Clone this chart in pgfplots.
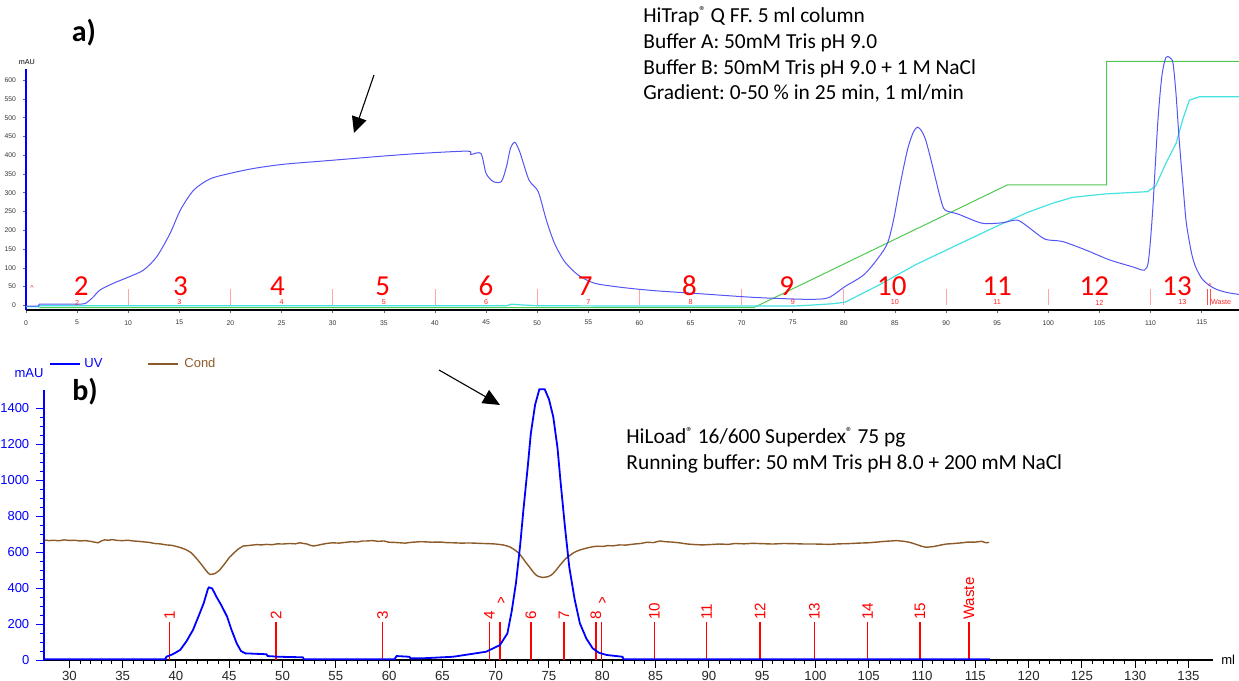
\documentclass[border=0pt]{standalone}
\usepackage{fontspec}
\setmainfont{Carlito}
\newfontfamily\arial{Liberation Sans}
\usepackage{pgfplots}
\pgfplotsset{compat=1.18}
\usetikzlibrary{arrows.meta}
\definecolor{uva}{RGB}{85,85,245}
\definecolor{conda}{RGB}{70,225,225}
\definecolor{grad}{RGB}{80,200,80}
\definecolor{uvb}{RGB}{0,0,255}
\definecolor{condb}{RGB}{140,90,40}
\definecolor{fraclight}{RGB}{255,165,165}
\newcommand{\reg}{\raisebox{0.33em}{\fontsize{6.5}{7}\selectfont ®}}
\frenchspacing
\begin{document}
\begin{tikzpicture}
\useasboundingbox (0,0) rectangle (619.5pt,340.5pt);

% ---------------- Panel a ----------------
\begin{axis}[
  at={(13pt,185.4pt)}, anchor=south west, scale only axis,
  width=606.5pt, height=120.6pt,
  xmin=0, xmax=118.65, ymin=-13, ymax=630,
  axis x line*=bottom, axis y line*=left,
  x axis line style={black, line width=0.8pt, -},
  y axis line style={blue, line width=1pt, -},
  clip=false,
  xtick={0,5,...,115}, ytick={0,50,...,600},
  tick align=outside, major tick length=1.5pt,
  tick style={black!60, line width=0.3pt},
  /pgf/number format/assume math mode=true,
  tick label style={font=\arial\fontsize{3.4}{4}\selectfont, text=black!80},
]
% fraction markers
\addplot[ycomb, draw=fraclight, line width=0.4pt] coordinates {
(10,43) (20,43) (30,43) (40,43) (50,43) (60,43) (70,43) (80,43) (90,43) (100,43) (110,43)};
\addplot[ycomb, draw=red!70, line width=0.4pt] coordinates {(115.6,43) (115.85,43)};
% gradient (green)
\addplot[grad, line width=0.5pt] coordinates {
(1.3,-6) (71.2,-6) (96.0,321) (105.7,321) (105.7,650) (118.65,650)};
% conductivity (cyan)
\addplot[conda, line width=0.6pt] coordinates {
(0,-4) (1.3,-4) (1.3,-1) (47,-1) (47.5,3) (48.5,1) (50,-1) (60,-2) (75,-2) (76.5,0) (78.8,4)
(80.1,8) (83.5,55) (87.0,108) (91,160) (95.2,214) (98,248) (100.4,272) (102.4,288) (105.6,297)
(109.7,303) (110.5,318) (111.5,379) (112.5,432) (113.2,500) (113.8,547) (114.8,556) (118.65,556)};
% UV (blue)
\addplot[uva, line width=0.5pt] coordinates {(0,-2) (1.2,-2) (1.3,3) (5.0,3)};
\addplot[uva, line width=0.5pt, smooth, tension=0.45] coordinates {
(5.0,3) (5.8,5) (6.5,20) (7.25,41) (8.56,59) (10.0,75) (11.5,94)
(12.8,130) (14.1,192) (15.1,254) (16.4,307) (18.0,337) (20,352) (22.3,365) (25.2,376)
(30.1,387) (35.0,398) (38.6,405) (43.2,411) (43.5,402) (44.5,405) (45.0,352) (45.7,330)
(46.5,330) (47.0,370) (47.4,420) (47.8,435) (48.1,422) (48.4,401) (49.2,334) (50.1,303)
(50.9,227) (51.7,165) (52.7,116) (54.0,81) (55.6,59) (58.2,48) (61.5,39) (66.4,30)
(71.3,21) (76.2,16) (78.2,18) (79.0,28) (80.1,50) (82.1,85) (84.1,156) (84.8,220) (85.4,307)
(85.9,375) (86.3,423) (86.8,462) (87.2,475) (87.6,465) (88.0,441) (88.5,390) (89.0,334)
(89.5,280) (89.9,254) (91.2,243) (93.5,219) (95.5,220) (97.0,227) (98.4,201) (99.7,176)
(101.4,170) (103.7,147) (106.0,121) (108.2,103) (109.4,94) (109.8,120) (110.2,250)
(110.7,485) (111.1,610) (111.5,661) (111.9,660) (112.2,645) (112.5,560) (112.8,441)
(113.2,310) (113.5,219) (114.0,140) (114.4,103) (115.0,72) (115.7,54) (116.5,42)
(117.5,34) (118.65,29)};
% small fraction labels
\begin{scope}[every node/.style={font=\arial\fontsize{3.6}{4}\selectfont, text=red!85, inner sep=0pt}]
\node at (axis cs:5,7.5) {2};
\node at (axis cs:15,7.5) {3};
\node at (axis cs:25,7.5) {4};
\node at (axis cs:35,7.5) {5};
\node at (axis cs:45,7.5) {6};
\node at (axis cs:55,7.5) {7};
\node at (axis cs:65,7.5) {8};
\node at (axis cs:75,7.5) {9};
\node at (axis cs:85,7.5) {10};
\node at (axis cs:95,7.5) {11};
\node at (axis cs:105,7.5) {12};
\node at (axis cs:113.1,7.5) {13};
\node at (axis cs:116.9,7.5) {Waste};
\node at (axis cs:0.6,46) {\textasciicircum};
\node at (axis cs:115.8,52) {\textasciicircum};
\end{scope}
% large fraction labels
\begin{scope}[every node/.style={font=\fontsize{14.5}{16}\selectfont, text=red, inner sep=0pt}]
\node at (axis cs:5.4,51) {2};
\node at (axis cs:15.1,51) {3};
\node at (axis cs:24.6,51) {4};
\node at (axis cs:34.9,51) {5};
\node at (axis cs:45.0,51) {6};
\node at (axis cs:54.7,51) {7};
\node at (axis cs:64.9,51) {8};
\node at (axis cs:74.4,51) {9};
\node at (axis cs:84.7,51) {10};
\node at (axis cs:95.0,51) {11};
\node at (axis cs:104.5,51) {12};
\node at (axis cs:112.6,51) {13};
\end{scope}
\end{axis}
\node[font=\arial\fontsize{3.6}{4}\selectfont, inner sep=0pt] at (13.4pt,309.5pt) {mAU};

% ---------------- Panel b ----------------
\begin{axis}[
  at={(22.15pt,10.5pt)}, anchor=south west, scale only axis,
  width=584.35pt, height=134.85pt,
  xmin=27.65, xmax=137.3, ymin=0, ymax=1500,
  axis x line*=bottom, axis y line*=left,
  x axis line style={black, line width=0.6pt, -},
  y axis line style={blue, line width=0.8pt, -},
  xtick={30,35,...,135}, minor x tick num=4,
  ytick={0,200,...,1400}, minor y tick num=3,
  tick align=outside, major tick length=4pt, minor tick length=2pt,
  x tick style={black, line width=0.5pt}, y tick style={blue, line width=0.5pt},
  /pgf/number format/assume math mode=true,
  /pgf/number format/set thousands separator={},
  xticklabel style={font=\arial\fontsize{6.6}{7}\selectfont, text=black!85, yshift=1.8pt},
  yticklabel style={font=\arial\fontsize{6.5}{7}\selectfont, text=blue},
  clip=false,
]
% fraction markers
\addplot[ycomb, draw=red, line width=0.7pt, nodes near coords, point meta=explicit symbolic,
  every node near coord/.append style={rotate=90, anchor=west, font=\arial\fontsize{7.6}{8}\selectfont, text=red, inner sep=0.8pt}]
coordinates {(39.4,210)[1] (49.4,210)[2] (59.4,210)[3] (69.4,210)[4] (70.4,210)[{}]
(73.3,210)[6] (76.4,210)[7] (79.4,210)[8] (79.9,210)[{}] (84.9,210)[10] (89.8,210)[11]
(94.8,210)[12] (99.9,210)[13] (104.9,210)[14] (109.8,210)[15] (114.4,210)[Waste]};
\node[font=\arial\fontsize{8}{9}\selectfont, text=red, inner sep=0pt] at (axis cs:70.5,318) {\textasciicircum};
\node[font=\arial\fontsize{8}{9}\selectfont, text=red, inner sep=0pt] at (axis cs:80.0,318) {\textasciicircum};
% conductivity
\addplot[condb, line width=0.7pt] coordinates {
(27.7,667) (28.1,664) (28.5,666) (29.0,663) (29.5,668) (30.0,665) (30.5,666) (31.0,662)
(31.5,664) (32.0,660) (32.3,656) (32.7,652) (33.0,662) (33.3,668) (33.7,666) (34,670)
(34.5,665) (35,664) (35.5,666) (36,662) (36.5,660) (37,657) (37.5,654) (38,648) (38.5,646)
(39.1,640) (39.6,638) (40,632) (40.5,624) (41.0,612) (41.4,598) (41.7,580) (42.0,560)
(42.3,538) (42.6,515) (42.8,500) (43.0,485) (43.2,476) (43.5,478) (43.7,482) (44.1,500)
(44.4,522) (44.7,545) (45.0,570) (45.4,593) (45.8,615) (46.3,634) (46.7,636) (47,638)
(47.6,642) (48.0,640) (48.5,643) (49.0,641) (49.5,646) (50,645) (50.7,648) (51.2,646)
(51.6,652) (52.0,648) (52.3,645) (52.6,638) (52.9,634) (53.2,637) (53.6,642) (54.1,648)
(54.7,652) (55.3,650) (56,655) (56.5,658) (57.0,656) (57.5,662) (57.9,662) (58.4,664)
(59,660) (59.5,662) (60,655) (60.5,654) (61.0,652) (61.5,650) (62.0,654) (62.9,658)
(63.5,657) (64,655) (64.8,656) (65.4,653) (66.0,652) (66.8,650) (67.5,651) (68,650)
(68.8,648) (69.4,647) (70,645) (70.7,640) (71.3,630) (71.8,612) (72.2,593) (72.5,570)
(72.8,545) (73.2,515) (73.5,491) (73.8,472) (74.0,465) (74.4,459) (74.9,463) (75.2,472)
(75.4,482) (75.7,502) (76.0,525) (76.3,546) (76.6,566) (77.0,583) (77.3,596) (77.6,605)
(77.9,612) (78.5,622) (79.1,630) (79.6,633) (80.1,632) (80.5,636) (81.0,635) (81.6,640)
(82.2,639) (83,645) (83.6,648) (84.2,655) (84.8,653) (85.4,662) (85.9,658) (86.5,656)
(87.2,652) (88,645) (88.7,642) (89.4,640) (90.1,642) (91,645) (91.8,643) (92.5,648)
(93.3,646) (94.1,649) (95.0,647) (96,645) (97.0,648) (98,647) (99.0,645) (100,645)
(100.7,644) (101.3,643) (102.2,646) (103,647) (104.0,650) (105,652) (105.8,656)
(106.5,660) (107.1,662) (107.6,664) (108.2,661) (108.8,655) (109.2,648) (109.6,640)
(110.0,632) (110.4,627) (110.8,629) (111.2,632) (111.8,640) (112.3,645) (113.0,648)
(113.8,652) (114.3,656) (115,656) (115.6,660) (116.0,652) (116.3,654)};
% UV
\addplot[uvb, line width=0.9pt] coordinates {
(27.65,4) (39.0,4) (39.1,18) (39.7,32) (40.4,56) (41.0,105) (41.6,167) (42.1,240) (42.6,315)
(43.0,395) (43.1,404) (43.4,398) (43.8,352) (44.3,300) (44.8,241) (45.2,170) (45.7,93)
(46.1,50) (46.5,37) (48.5,32) (48.6,22) (49.7,18) (51.9,15) (52.0,4) (60.5,4) (60.7,22)
(61.9,18) (62.0,9) (63,9) (66.0,18) (69.1,46) (70.4,83) (71.1,148) (71.5,270) (71.9,427)
(72.3,640) (72.6,834) (73.0,1070) (73.3,1261) (73.7,1420) (74.1,1506) (74.6,1506)
(75.0,1450) (75.4,1353) (75.8,1180) (76.1,983) (76.5,740) (76.9,519) (77.4,340) (77.9,204)
(78.5,120) (79.1,65) (79.7,40) (80.4,28) (81.9,18) (82.0,4) (116.4,4)};
\node[font=\arial\fontsize{6.5}{7}\selectfont, anchor=west, inner sep=0pt] at (axis cs:137.3,0) {\hspace{4pt}ml};
\end{axis}
% legend and unit of panel b
\draw[uvb, line width=0.7pt] (25pt,158.5pt) -- (40pt,158.5pt);
\node[font=\arial\fontsize{6.5}{7}\selectfont, text=uvb, anchor=west, inner sep=0pt] at (42pt,159pt) {UV};
\draw[condb, line width=0.7pt] (74pt,158.5pt) -- (89pt,158.5pt);
\node[font=\arial\fontsize{6.5}{7}\selectfont, text=condb, anchor=west, inner sep=0pt] at (92pt,159pt) {Cond};
\node[font=\arial\fontsize{6.5}{7}\selectfont, text=uvb, inner sep=0pt] at (14.5pt,154pt) {mAU};

% panel letters
\node[font=\bfseries\fontsize{15}{16}\selectfont, inner sep=0pt] at (42pt,324pt) {a)};
\node[font=\bfseries\fontsize{15}{16}\selectfont, inner sep=0pt] at (42.5pt,144.5pt) {b)};

% annotation texts
\begin{scope}[every node/.style={font=\fontsize{10.7}{12}\selectfont, anchor=base west, inner sep=0pt}]
\node at (321.5pt,329.2pt) {HiTrap\reg{} Q FF. 5 ml column};
\node at (321.5pt,316.4pt) {Buffer A: 50mM Tris pH 9.0};
\node at (321.5pt,303.0pt) {Buffer B: 50mM Tris pH 9.0 + 1 M NaCl};
\node at (321.5pt,290.5pt) {Gradient: 0-50 \% in 25 min, 1 ml/min};
\node at (313pt,118.85pt) {HiLoad\reg{} 16/600 Superdex\reg{} 75 pg};
\node at (313pt,105.85pt) {Running buffer: 50 mM Tris pH 8.0 + 200 mM NaCl};
\end{scope}

% arrows
\draw[line width=0.55pt, -{Triangle[width=7.5pt,length=8pt]}] (187pt,303pt) -- (177pt,274pt);
\draw[line width=0.55pt, -{Triangle[width=7.5pt,length=8.5pt]}] (219.5pt,155.5pt) -- (250pt,138pt);
\end{tikzpicture}
\end{document}
